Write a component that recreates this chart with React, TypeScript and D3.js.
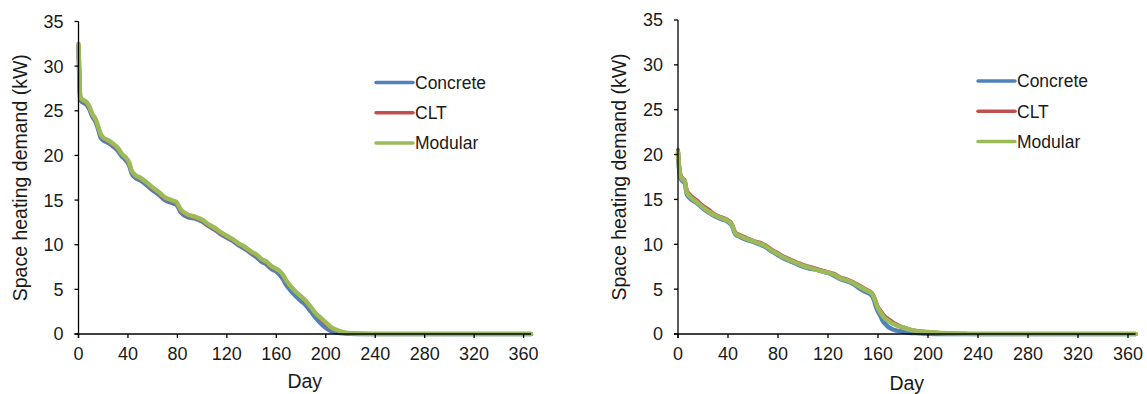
import React from "react";
import * as d3 from "d3";

// ---------- DATA ----------
const seriesNames = ["Concrete", "CLT", "Modular"];
const seriesColors = ["#4F81BD", "#C0504D", "#9BBB59"];
const xTicks = [0, 40, 80, 120, 160, 200, 240, 280, 320, 360];
const yTicks = [0, 5, 10, 15, 20, 25, 30, 35];

// Left panel
const leftDays = [0, 0.3, 0.7, 1.2, 2, 4, 7, 9, 11, 14, 16, 18, 20, 24, 28, 32, 35, 38, 41, 43, 46, 50, 55, 60, 65, 70, 75, 79, 83, 88, 95, 100, 105, 110, 115, 120, 125, 130, 134, 137, 140, 144, 148, 152, 156, 160, 163, 166, 168, 172, 176, 180, 184, 188, 192, 196, 200, 204, 208, 212, 216, 220, 230, 240, 250, 366];
const leftModular = [32.5, 31, 29, 27, 26.4, 26.2, 25.9, 25.4, 24.7, 24.0, 23.2, 22.4, 22.0, 21.7, 21.3, 20.8, 20.2, 19.8, 19.2, 18.3, 17.8, 17.5, 17.0, 16.4, 15.9, 15.3, 15.0, 14.8, 13.9, 13.4, 13.1, 12.8, 12.3, 11.9, 11.4, 11.0, 10.6, 10.1, 9.8, 9.5, 9.2, 8.9, 8.4, 8.1, 7.6, 7.3, 7.0, 6.5, 6.0, 5.3, 4.7, 4.2, 3.7, 3.0, 2.3, 1.8, 1.3, 0.8, 0.5, 0.3, 0.15, 0.08, 0.03, 0.01, 0, 0];
const leftCLT = [32.4, 30.8, 28.8, 26.9, 26.3, 26.1, 25.8, 25.3, 24.6, 23.9, 23.1, 22.3, 21.9, 21.6, 21.2, 20.7, 20.1, 19.7, 19.1, 18.2, 17.7, 17.4, 16.9, 16.3, 15.8, 15.2, 14.9, 14.7, 13.8, 13.3, 13.0, 12.7, 12.2, 11.8, 11.3, 10.9, 10.5, 10.0, 9.7, 9.4, 9.1, 8.8, 8.3, 8.0, 7.5, 7.2, 6.9, 6.4, 5.9, 5.2, 4.6, 4.1, 3.6, 2.9, 2.2, 1.7, 1.2, 0.7, 0.45, 0.25, 0.12, 0.06, 0.02, 0.01, 0, 0];
const leftConcrete = [32.3, 30.5, 28.5, 26.6, 26.1, 25.9, 25.6, 25.1, 24.4, 23.7, 22.9, 22.0, 21.7, 21.4, 21.0, 20.5, 19.9, 19.5, 18.9, 18.0, 17.5, 17.2, 16.7, 16.1, 15.6, 15.0, 14.7, 14.5, 13.6, 13.1, 12.9, 12.6, 12.1, 11.7, 11.2, 10.8, 10.4, 9.9, 9.6, 9.3, 9.0, 8.6, 8.1, 7.8, 7.3, 7.0, 6.6, 6.0, 5.5, 4.8, 4.2, 3.7, 3.2, 2.5, 1.8, 1.2, 0.7, 0.35, 0.18, 0.1, 0.05, 0.02, 0.01, 0, 0, 0];

// Right panel
const rightDays = [0, 0.5, 1, 2, 4, 5.5, 7, 9, 15, 20, 25, 30, 35, 40, 43, 46, 50, 55, 60, 65, 70, 75, 80, 85, 90, 95, 100, 105, 110, 115, 120, 125, 130, 135, 140, 145, 150, 155, 157, 158, 160, 162, 164, 166, 168, 170, 172, 175, 178, 180, 185, 190, 200, 210, 220, 230, 240, 366];
const rightModular = [20.3, 19.2, 18.5, 17.6, 17.2, 17.0, 15.8, 15.4, 14.7, 14.1, 13.6, 13.2, 12.9, 12.6, 12.2, 11.2, 10.9, 10.6, 10.35, 10.1, 9.8, 9.3, 8.9, 8.5, 8.2, 7.9, 7.6, 7.4, 7.2, 7.0, 6.85, 6.6, 6.2, 6.0, 5.7, 5.3, 4.9, 4.5, 4.0, 3.6, 2.9, 2.4, 2.0, 1.7, 1.5, 1.3, 1.15, 0.95, 0.8, 0.7, 0.5, 0.35, 0.22, 0.12, 0.05, 0.02, 0, 0];
const rightCLT = [20.5, 19.4, 18.7, 17.8, 17.3, 17.1, 16.0, 15.6, 14.9, 14.3, 13.8, 13.3, 13.0, 12.7, 12.3, 11.3, 11.0, 10.7, 10.4, 10.2, 9.9, 9.4, 9.0, 8.6, 8.3, 8.0, 7.7, 7.5, 7.3, 7.1, 6.9, 6.7, 6.3, 6.1, 5.8, 5.4, 5.0, 4.6, 4.1, 3.7, 3.0, 2.6, 2.2, 1.9, 1.7, 1.5, 1.3, 1.05, 0.85, 0.75, 0.52, 0.36, 0.22, 0.12, 0.05, 0.02, 0, 0];
const rightConcrete = [20.2, 19.0, 18.3, 17.4, 17.0, 16.8, 15.6, 15.2, 14.6, 14.0, 13.5, 13.1, 12.8, 12.5, 12.1, 11.1, 10.8, 10.5, 10.3, 10.0, 9.7, 9.2, 8.8, 8.4, 8.1, 7.8, 7.5, 7.3, 7.2, 7.0, 6.8, 6.5, 6.1, 5.9, 5.6, 5.1, 4.7, 4.3, 3.7, 3.2, 2.5, 2.0, 1.4, 1.1, 0.8, 0.65, 0.5, 0.38, 0.3, 0.25, 0.15, 0.1, 0.03, 0.01, 0, 0, 0, 0];

// ---------- CHART ----------
type PanelProps = {
  days: number[];
  series: number[][];
  x0: number;
  x1: number;
  yTop: number;
  yBottom: number;
  titleX: number;
  dayY: number;
  legendX: number;
  legendY: number;
};

const FONT = "'Liberation Sans', Arial, sans-serif";

function Panel(p: PanelProps) {
  const x = d3.scaleLinear().domain([0, 366]).range([p.x0, p.x1]);
  const y = d3.scaleLinear().domain([0, 35]).range([p.yBottom, p.yTop]);
  const widths = [4.5, 4, 4.5];
  const order = [0, 1, 2];
  return (
    <g>
      {order.map((si) => {
        const line = d3
          .line<number>()
          .x((_, i) => x(p.days[i]))
          .y((v) => y(v))
          .curve(d3.curveMonotoneX);
        return (
          <path
            key={si}
            d={line(p.series[si]) || ""}
            fill="none"
            stroke={seriesColors[si]}
            strokeWidth={widths[si]}
            strokeLinejoin="round"
            strokeLinecap="round"
          />
        );
      })}
      {/* axes */}
      <line x1={p.x0} x2={p.x0} y1={y(35)} y2={p.yBottom + 4} stroke="#000" strokeWidth={1.3} />
      <line x1={p.x0 - 4} x2={p.x1} y1={p.yBottom} y2={p.yBottom} stroke="#000" strokeWidth={1.3} />
      {yTicks.map((t) => (
        <g key={"y" + t}>
          <line x1={p.x0 - 4} x2={p.x0} y1={y(t)} y2={y(t)} stroke="#000" strokeWidth={1.3} />
          <text x={p.x0 - 15} y={y(t)} dy="0.36em" textAnchor="end" fontFamily={FONT} fontSize={18} fill="#1a1a1a">
            {t}
          </text>
        </g>
      ))}
      {xTicks.map((t) => (
        <g key={"x" + t}>
          <line x1={x(t)} x2={x(t)} y1={p.yBottom} y2={p.yBottom + 4} stroke="#000" strokeWidth={1.3} />
          <text x={x(t)} y={p.yBottom + 26} textAnchor="middle" fontFamily={FONT} fontSize={18} fill="#1a1a1a">
            {t}
          </text>
        </g>
      ))}
      <text
        transform={`translate(${p.titleX},${(p.yTop + p.yBottom) / 2}) rotate(-90)`}
        textAnchor="middle"
        fontFamily={FONT}
        fontSize={19.5}
        fill="#1a1a1a"
      >
        Space heating demand (kW)
      </text>
      <text x={(p.x0 + p.x1) / 2} y={p.dayY} textAnchor="middle" fontFamily={FONT} fontSize={19.5} fill="#1a1a1a">
        Day
      </text>
      {seriesNames.map((n, i) => (
        <g key={n}>
          <line
            x1={p.legendX}
            x2={p.legendX + 37}
            y1={p.legendY + i * 30.3}
            y2={p.legendY + i * 30.3}
            stroke={seriesColors[i]}
            strokeWidth={3.5}
            strokeLinecap="round"
          />
          <text x={p.legendX + 39} y={p.legendY + i * 30.3} dy="0.36em" fontFamily={FONT} fontSize={17.5} fill="#1a1a1a">
            {n}
          </text>
        </g>
      ))}
    </g>
  );
}

export default function App() {
  return (
    <svg
      width={1147}
      height={394}
      style={{ position: "absolute", left: 0, top: 0, background: "#fff" }}
    >
      <rect width={1147} height={394} fill="#fff" />
      <Panel
        days={leftDays}
        series={[leftConcrete, leftCLT, leftModular]}
        x0={78.5}
        x1={531}
        yTop={21.5}
        yBottom={334}
        titleX={27}
        dayY={388}
        legendX={376}
        legendY={82.5}
      />
      <Panel
        days={rightDays}
        series={[rightConcrete, rightCLT, rightModular]}
        x0={678}
        x1={1135.5}
        yTop={20}
        yBottom={334}
        titleX={626}
        dayY={390}
        legendX={978}
        legendY={81}
      />
    </svg>
  );
}
